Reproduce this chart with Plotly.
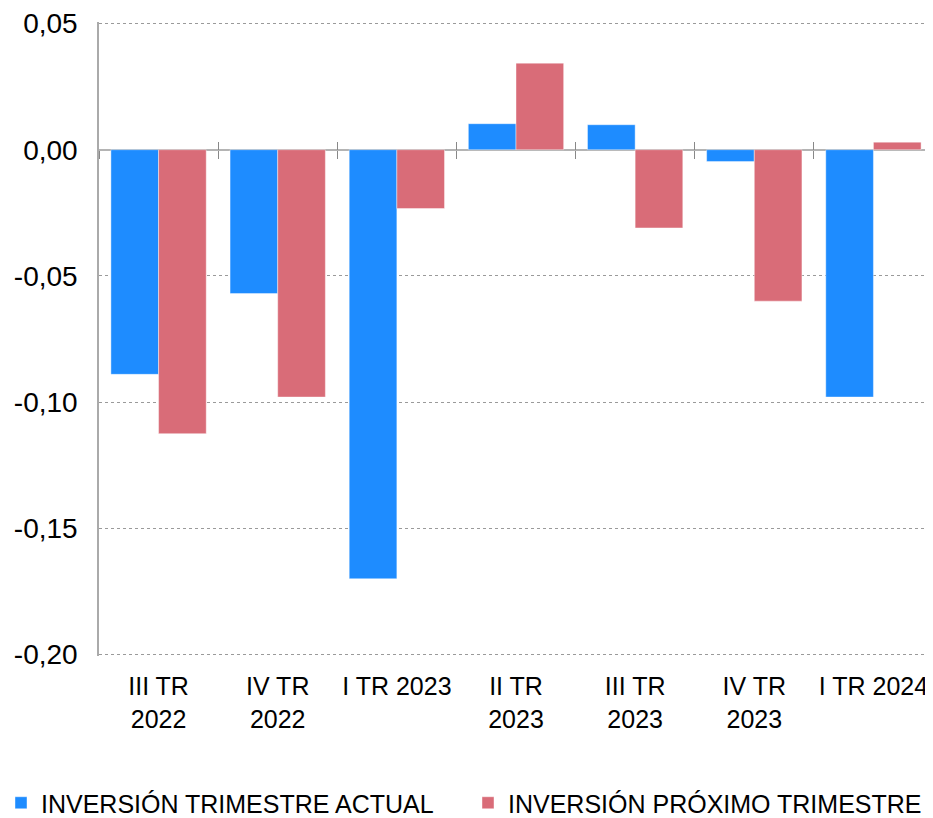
import plotly.graph_objects as go

categories = ["III TR<br>2022", "IV TR<br>2022", "I TR 2023", "II TR<br>2023",
              "III TR<br>2023", "IV TR<br>2023", "I TR 2024"]
actual = [-0.089, -0.057, -0.170, 0.0103, 0.0099, -0.0047, -0.098]
proximo = [-0.1125, -0.098, -0.0233, 0.0343, -0.031, -0.060, 0.0030]
y_ticks = [0.05, 0.0, -0.05, -0.10, -0.15, -0.20]
y_labels = ["0,05", "0,00", "-0,05", "-0,10", "-0,15", "-0,20"]

FONT = "Liberation Sans, Arial, Helvetica, sans-serif"
BLUE = "#1E8CFF"
RED = "#D96C78"

fig = go.Figure()
fig.add_trace(go.Bar(x=categories, y=actual, name="INVERSIÓN TRIMESTRE ACTUAL",
                     legend="legend",
                     marker=dict(color=BLUE, line=dict(color="rgba(255,255,255,0.7)", width=0.6))))
fig.add_trace(go.Bar(x=categories, y=proximo, name="INVERSIÓN PRÓXIMO TRIMESTRE",
                     legend="legend2",
                     marker=dict(color=RED, line=dict(color="rgba(255,255,255,0.7)", width=0.6))))

ymin, ymax = -0.2006, 0.0506
zero_frac = (0 - ymin) / (ymax - ymin)

W, H = 925, 810
L, T, B = 91, 10, 162

fig.update_layout(
    width=W, height=H,
    margin=dict(l=L, r=0, t=T, b=B),
    plot_bgcolor="white", paper_bgcolor="white",
    barmode="group", bargap=0.2, bargroupgap=0,
    font=dict(family=FONT, color="black"),
    legend=dict(orientation="h", xref="container", x=0, xanchor="left",
                yref="container", y=(H - 795) / H, yanchor="middle", indentation=-7,
                font=dict(size=25, family=FONT), bgcolor="rgba(0,0,0,0)"),
    legend2=dict(orientation="h", xref="container", x=460 / W, xanchor="left",
                 yref="container", y=(H - 795) / H, yanchor="middle",
                 font=dict(size=25, family=FONT), bgcolor="rgba(0,0,0,0)"),
    showlegend=True,
    xaxis=dict(type="category", categoryarray=categories, range=[-0.5, 6.5],
               showgrid=False, showline=False, zeroline=False, ticks="",
               tickfont=dict(size=25, family=FONT), ticklabelstandoff=13),
    xaxis2=dict(type="category", categoryarray=categories, range=[-0.5, 6.5],
                overlaying="x", anchor="free", position=zero_frac,
                side="bottom", tickson="boundaries", ticks="outside", ticklen=8,
                tickcolor="#888888", tickwidth=1.2, showticklabels=False,
                showgrid=False, showline=False, zeroline=False, matches="x"),
    xaxis3=dict(type="category", categoryarray=categories, range=[-0.5, 6.5],
                overlaying="x", anchor="free", position=zero_frac,
                side="bottom", tickson="boundaries", ticks="inside", ticklen=8,
                tickcolor="#888888", tickwidth=1.2, showticklabels=False,
                showgrid=False, showline=False, zeroline=False, matches="x"),
    yaxis=dict(range=[ymin, ymax], tickvals=y_ticks, ticktext=y_labels,
               tickfont=dict(size=28, family=FONT), ticklabeloverflow="allow",
               showgrid=True, gridcolor="#9A9A9A", griddash="3px,3px", gridwidth=1,
               zeroline=True, zerolinecolor="#B4B4B4", zerolinewidth=2,
               showline=True, linecolor="#AAAAAA", linewidth=1.5,
               ticks="", ticklabelstandoff=14),
)

# invisible traces to activate the overlay tick axes
fig.add_trace(go.Bar(x=categories, y=[None] * len(categories), xaxis="x2",
                     showlegend=False, hoverinfo="skip"))
fig.add_trace(go.Bar(x=categories, y=[None] * len(categories), xaxis="x3",
                     showlegend=False, hoverinfo="skip"))

fig.write_html("out.html")
